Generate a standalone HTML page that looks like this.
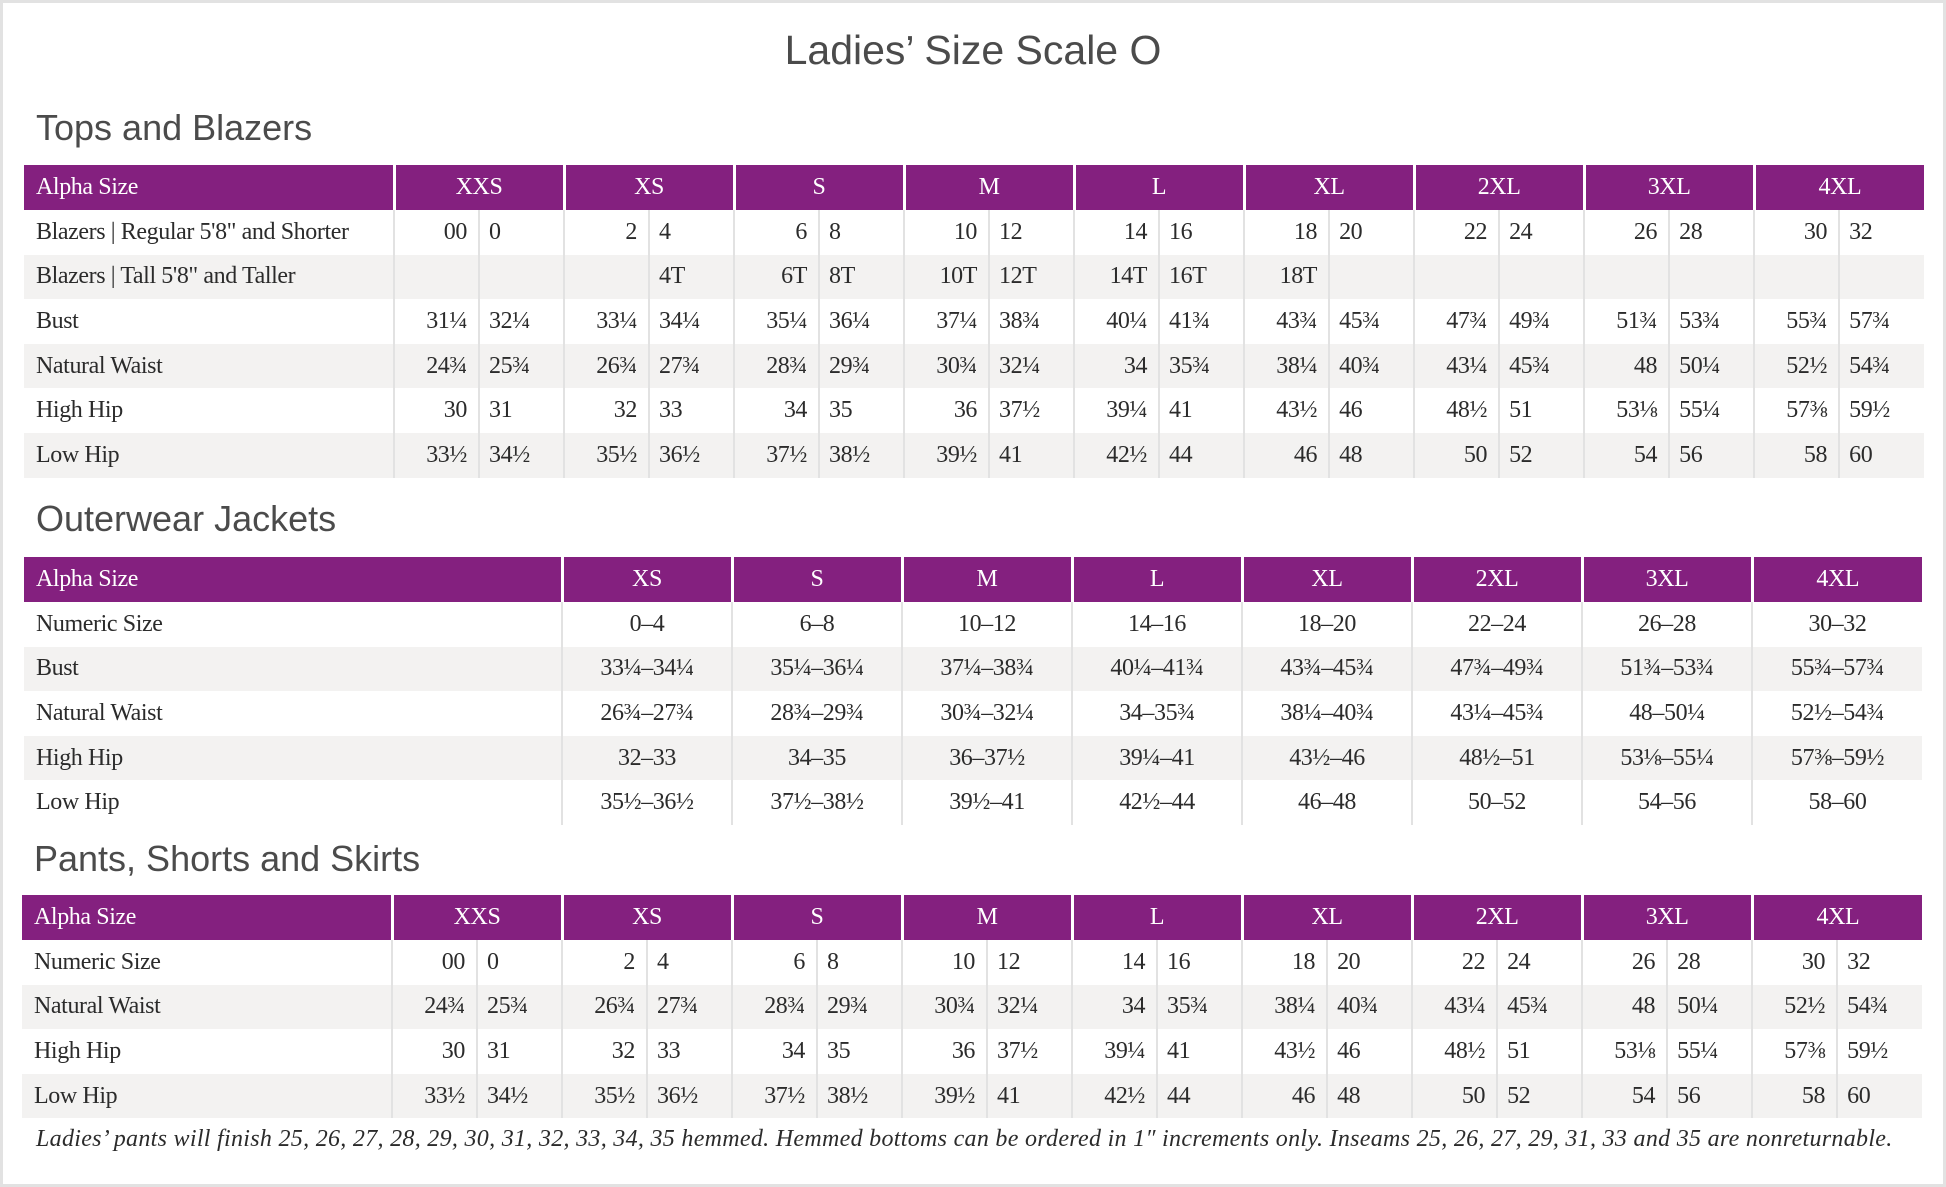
<!DOCTYPE html>
<html><head><meta charset="utf-8"><style>
html,body{margin:0;padding:0;}
body{width:1946px;height:1187px;position:relative;background:#fff;overflow:hidden;font-family:"Liberation Serif",serif;color:#2b2b2b;}
.frame{position:absolute;left:0;top:0;width:1940px;height:1181px;border:3px solid #e2e2e2;}
.ttl{position:absolute;left:0;width:1946px;top:28px;text-align:center;font-family:"Liberation Sans",sans-serif;font-size:41px;line-height:44px;color:#4b4b4b;}
.sec{position:absolute;font-family:"Liberation Sans",sans-serif;font-size:36px;line-height:36px;color:#4b4b4b;}
table{position:absolute;border-collapse:collapse;table-layout:fixed;font-size:24px;letter-spacing:-0.4px;}
td{padding:0;white-space:nowrap;overflow:visible;}
tr.h td{background:#84207f;color:#fff;text-align:center;height:45px;border-left:3px solid #fff;}
tr.h td:first-child{text-align:left;padding-left:12px;border-left:none;}
tr.r td{height:44.6px;border-left:2px solid #e2e2e2;}
tr.r td:first-child{border-left:none;padding-left:12px;}
tr.g td{background:#f3f2f1;}
td.a{text-align:right;padding-right:11px;}
td.b{text-align:left;padding-left:9px;}
td.c{text-align:center;}
.foot{position:absolute;left:36px;top:1124px;font-style:italic;font-size:24px;line-height:30px;letter-spacing:0.3px;white-space:nowrap;color:#2b2b2b;}
</style></head><body>
<div class="frame"></div>
<div class="ttl">Ladies’ Size Scale O</div>

<div class="sec" style="left:36px;top:110px;">Tops and Blazers</div>
<table style="left:24px;top:165px;width:1900px;">
<colgroup><col style="width:370px"><col span="18" style="width:85px"></colgroup>
<tr class="h"><td>Alpha Size</td><td colspan="2">XXS</td><td colspan="2">XS</td><td colspan="2">S</td><td colspan="2">M</td><td colspan="2">L</td><td colspan="2">XL</td><td colspan="2">2XL</td><td colspan="2">3XL</td><td colspan="2">4XL</td></tr>
<tr class="r"><td>Blazers | Regular 5'8" and Shorter</td><td class="a">00</td><td class="b">0</td><td class="a">2</td><td class="b">4</td><td class="a">6</td><td class="b">8</td><td class="a">10</td><td class="b">12</td><td class="a">14</td><td class="b">16</td><td class="a">18</td><td class="b">20</td><td class="a">22</td><td class="b">24</td><td class="a">26</td><td class="b">28</td><td class="a">30</td><td class="b">32</td></tr>
<tr class="r g"><td>Blazers | Tall 5'8" and Taller</td><td class="a"></td><td class="b"></td><td class="a"></td><td class="b">4T</td><td class="a">6T</td><td class="b">8T</td><td class="a">10T</td><td class="b">12T</td><td class="a">14T</td><td class="b">16T</td><td class="a">18T</td><td class="b"></td><td class="a"></td><td class="b"></td><td class="a"></td><td class="b"></td><td class="a"></td><td class="b"></td></tr>
<tr class="r"><td>Bust</td><td class="a">31¼</td><td class="b">32¼</td><td class="a">33¼</td><td class="b">34¼</td><td class="a">35¼</td><td class="b">36¼</td><td class="a">37¼</td><td class="b">38¾</td><td class="a">40¼</td><td class="b">41¾</td><td class="a">43¾</td><td class="b">45¾</td><td class="a">47¾</td><td class="b">49¾</td><td class="a">51¾</td><td class="b">53¾</td><td class="a">55¾</td><td class="b">57¾</td></tr>
<tr class="r g"><td>Natural Waist</td><td class="a">24¾</td><td class="b">25¾</td><td class="a">26¾</td><td class="b">27¾</td><td class="a">28¾</td><td class="b">29¾</td><td class="a">30¾</td><td class="b">32¼</td><td class="a">34</td><td class="b">35¾</td><td class="a">38¼</td><td class="b">40¾</td><td class="a">43¼</td><td class="b">45¾</td><td class="a">48</td><td class="b">50¼</td><td class="a">52½</td><td class="b">54¾</td></tr>
<tr class="r"><td>High Hip</td><td class="a">30</td><td class="b">31</td><td class="a">32</td><td class="b">33</td><td class="a">34</td><td class="b">35</td><td class="a">36</td><td class="b">37½</td><td class="a">39¼</td><td class="b">41</td><td class="a">43½</td><td class="b">46</td><td class="a">48½</td><td class="b">51</td><td class="a">53⅛</td><td class="b">55¼</td><td class="a">57⅜</td><td class="b">59½</td></tr>
<tr class="r g"><td>Low Hip</td><td class="a">33½</td><td class="b">34½</td><td class="a">35½</td><td class="b">36½</td><td class="a">37½</td><td class="b">38½</td><td class="a">39½</td><td class="b">41</td><td class="a">42½</td><td class="b">44</td><td class="a">46</td><td class="b">48</td><td class="a">50</td><td class="b">52</td><td class="a">54</td><td class="b">56</td><td class="a">58</td><td class="b">60</td></tr>
</table>

<div class="sec" style="left:36px;top:501px;">Outerwear Jackets</div>
<table style="left:24px;top:557px;width:1898px;">
<colgroup><col style="width:538px"><col span="8" style="width:170px"></colgroup>
<tr class="h"><td>Alpha Size</td><td>XS</td><td>S</td><td>M</td><td>L</td><td>XL</td><td>2XL</td><td>3XL</td><td>4XL</td></tr>
<tr class="r"><td>Numeric Size</td><td class="c">0–4</td><td class="c">6–8</td><td class="c">10–12</td><td class="c">14–16</td><td class="c">18–20</td><td class="c">22–24</td><td class="c">26–28</td><td class="c">30–32</td></tr>
<tr class="r g"><td>Bust</td><td class="c">33¼–34¼</td><td class="c">35¼–36¼</td><td class="c">37¼–38¾</td><td class="c">40¼–41¾</td><td class="c">43¾–45¾</td><td class="c">47¾–49¾</td><td class="c">51¾–53¾</td><td class="c">55¾–57¾</td></tr>
<tr class="r"><td>Natural Waist</td><td class="c">26¾–27¾</td><td class="c">28¾–29¾</td><td class="c">30¾–32¼</td><td class="c">34–35¾</td><td class="c">38¼–40¾</td><td class="c">43¼–45¾</td><td class="c">48–50¼</td><td class="c">52½–54¾</td></tr>
<tr class="r g"><td>High Hip</td><td class="c">32–33</td><td class="c">34–35</td><td class="c">36–37½</td><td class="c">39¼–41</td><td class="c">43½–46</td><td class="c">48½–51</td><td class="c">53⅛–55¼</td><td class="c">57⅜–59½</td></tr>
<tr class="r"><td>Low Hip</td><td class="c">35½–36½</td><td class="c">37½–38½</td><td class="c">39½–41</td><td class="c">42½–44</td><td class="c">46–48</td><td class="c">50–52</td><td class="c">54–56</td><td class="c">58–60</td></tr>
</table>

<div class="sec" style="left:34px;top:841px;">Pants, Shorts and Skirts</div>
<table style="left:22px;top:895px;width:1900px;">
<colgroup><col style="width:370px"><col span="18" style="width:85px"></colgroup>
<tr class="h"><td>Alpha Size</td><td colspan="2">XXS</td><td colspan="2">XS</td><td colspan="2">S</td><td colspan="2">M</td><td colspan="2">L</td><td colspan="2">XL</td><td colspan="2">2XL</td><td colspan="2">3XL</td><td colspan="2">4XL</td></tr>
<tr class="r"><td>Numeric Size</td><td class="a">00</td><td class="b">0</td><td class="a">2</td><td class="b">4</td><td class="a">6</td><td class="b">8</td><td class="a">10</td><td class="b">12</td><td class="a">14</td><td class="b">16</td><td class="a">18</td><td class="b">20</td><td class="a">22</td><td class="b">24</td><td class="a">26</td><td class="b">28</td><td class="a">30</td><td class="b">32</td></tr>
<tr class="r g"><td>Natural Waist</td><td class="a">24¾</td><td class="b">25¾</td><td class="a">26¾</td><td class="b">27¾</td><td class="a">28¾</td><td class="b">29¾</td><td class="a">30¾</td><td class="b">32¼</td><td class="a">34</td><td class="b">35¾</td><td class="a">38¼</td><td class="b">40¾</td><td class="a">43¼</td><td class="b">45¾</td><td class="a">48</td><td class="b">50¼</td><td class="a">52½</td><td class="b">54¾</td></tr>
<tr class="r"><td>High Hip</td><td class="a">30</td><td class="b">31</td><td class="a">32</td><td class="b">33</td><td class="a">34</td><td class="b">35</td><td class="a">36</td><td class="b">37½</td><td class="a">39¼</td><td class="b">41</td><td class="a">43½</td><td class="b">46</td><td class="a">48½</td><td class="b">51</td><td class="a">53⅛</td><td class="b">55¼</td><td class="a">57⅜</td><td class="b">59½</td></tr>
<tr class="r g"><td>Low Hip</td><td class="a">33½</td><td class="b">34½</td><td class="a">35½</td><td class="b">36½</td><td class="a">37½</td><td class="b">38½</td><td class="a">39½</td><td class="b">41</td><td class="a">42½</td><td class="b">44</td><td class="a">46</td><td class="b">48</td><td class="a">50</td><td class="b">52</td><td class="a">54</td><td class="b">56</td><td class="a">58</td><td class="b">60</td></tr>
</table>

<div class="foot">Ladies’ pants will finish 25, 26, 27, 28, 29, 30, 31, 32, 33, 34, 35 hemmed. Hemmed bottoms can be ordered in 1″ increments only. Inseams 25, 26, 27, 29, 31, 33 and 35 are nonreturnable.</div>
</body></html>
